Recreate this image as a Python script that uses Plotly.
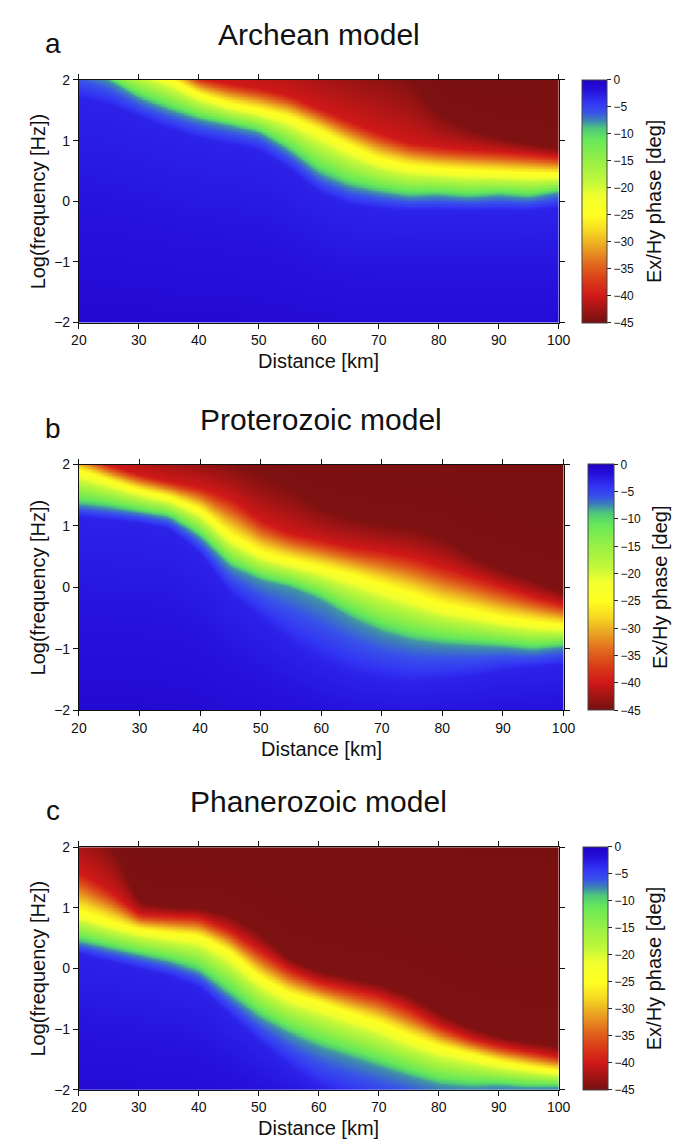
import numpy as np
import plotly.graph_objects as go

# ---------------- data ----------------
DIST = [20, 25, 30, 35, 40, 45, 50, 55, 60, 65, 70, 75, 80, 85, 90, 95, 100]
X_TICKS = [20, 30, 40, 50, 60, 70, 80, 90, 100]
Y_TICKS = [-2, -1, 0, 1, 2]
CB_TICKS = [0, -5, -10, -15, -20, -25, -30, -35, -40, -45]

# phase values of the iso-lines (deg)
PHASE_LEVELS = [-0.5, -3, -8, -24, -40, -44.5, -45]
FLOOR_LOGF = -3.0
CEIL_LOGF = 4.0

# Archean model: log-frequency of each iso-phase line at each distance
A_F3 = [1.7, 1.6, 1.4, 1.2, 1.05, 0.95, 0.85, 0.55, 0.15, -0.05, -0.12, -0.15, -0.15, -0.15, -0.15, -0.15, -0.1]
A_F8 = [2.2, 2.0, 1.7, 1.51, 1.35, 1.25, 1.14, 0.84, 0.46, 0.25, 0.15, 0.08, 0.1, 0.06, 0.1, 0.06, 0.15]
A_F24 = [2.5, 2.3, 2.2, 2.02, 1.76, 1.6, 1.5, 1.38, 1.16, 0.9, 0.68, 0.57, 0.52, 0.49, 0.47, 0.45, 0.44]
A_F40 = [3.0, 2.8, 2.65, 2.35, 2.05, 1.95, 1.87, 1.75, 1.54, 1.33, 1.13, 0.97, 0.9, 0.86, 0.83, 0.79, 0.74]
A_F44 = [3.5, 3.4, 3.3, 3.2, 3.1, 3.0, 2.9, 2.8, 2.6, 2.45, 2.3, 2.05, 1.45, 1.2, 1.05, 0.95, 0.88]

# Proterozoic model
B_F3 = [1.15, 1.1, 1.05, 0.95, 0.55, -0.1, -0.5, -0.9, -1.2, -1.4, -1.5, -1.55, -1.5, -1.45, -1.35, -1.3, -1.25]
B_F8 = [1.35, 1.3, 1.22, 1.14, 0.82, 0.34, 0.12, 0.0, -0.2, -0.5, -0.72, -0.86, -0.92, -0.95, -0.97, -1.02, -0.96]
B_F24 = [1.9, 1.73, 1.57, 1.46, 1.25, 0.82, 0.55, 0.42, 0.31, 0.18, 0.02, -0.14, -0.31, -0.41, -0.52, -0.58, -0.63]
B_F40 = [2.2, 2.0, 1.84, 1.73, 1.63, 1.46, 1.09, 0.88, 0.77, 0.66, 0.6, 0.5, 0.34, 0.18, 0.02, -0.14, -0.28]
B_F44 = [2.8, 2.6, 2.45, 2.3, 2.2, 2.05, 1.85, 1.6, 1.3, 1.14, 1.04, 0.98, 0.82, 0.5, 0.28, 0.12, -0.09]

# Phanerozoic model
C_F3 = [0.25, 0.12, 0.0, -0.12, -0.3, -0.75, -1.2, -1.6, -1.95, -2.15, -2.3, -2.4, -2.5, -2.5, -2.5, -2.5, -2.5]
C_F8 = [0.44, 0.33, 0.22, 0.11, -0.05, -0.43, -0.8, -1.07, -1.29, -1.45, -1.61, -1.77, -1.91, -1.95, -1.93, -1.96, -1.95]
C_F24 = [0.92, 0.76, 0.63, 0.57, 0.52, 0.27, -0.16, -0.43, -0.57, -0.75, -0.91, -1.13, -1.3, -1.42, -1.55, -1.63, -1.7]
C_F40 = [1.6, 1.3, 0.9, 0.88, 0.86, 0.65, 0.33, 0.0, -0.21, -0.32, -0.43, -0.64, -0.93, -1.13, -1.26, -1.36, -1.45]
C_F44 = [2.6, 2.1, 1.1, 1.02, 1.0, 0.9, 0.6, 0.17, -0.03, -0.15, -0.25, -0.43, -0.72, -0.96, -1.12, -1.2, -1.28]

TITLES = ["Archean model", "Proterozoic model", "Phanerozoic model"]
LETTERS = ["a", "b", "c"]
X_TITLE = "Distance [km]"
Y_TITLE = "Log(frequency [Hz])"
CB_TITLE = "Ex/Hy phase [deg]"

# ---------------- style ----------------
W, H = 694, 1147
FONT = "Liberation Sans, Arial, Helvetica, sans-serif"

COLOR_STOPS = [
    (-45, "#761010"), (-42.5, "#a01414"), (-40, "#d01818"), (-37, "#da3c18"),
    (-34, "#e26a1e"), (-31, "#eaa222"), (-28, "#f6d822"), (-25, "#ffff22"),
    (-21.5, "#f2ff2e"), (-19, "#c4f83a"), (-15, "#98f044"), (-11, "#66e85a"),
    (-9, "#4ec87a"), (-7.5, "#3e84b4"), (-6, "#3852ea"), (-4, "#3232f4"),
    (-2, "#2612dc"), (0, "#2000c8"),
]
COLORSCALE = [[(v + 45) / 45.0, c] for v, c in COLOR_STOPS]

# raster on which the iso-line table is laid out for the heatmap
GRID_X = np.linspace(20, 100, 321)
GRID_Y = np.linspace(-2, 2, 321)
SMOOTH_PTS = 13  # width (in raster columns) of the rendering smoothing of the iso-lines


def smooth(v):
    k = np.hanning(SMOOTH_PTS + 2)[1:-1]
    k = k / k.sum()
    pad = SMOOTH_PTS // 2
    vp = np.concatenate([np.full(pad, v[0]), v, np.full(pad, v[-1])])
    return np.convolve(vp, k, mode="valid")


def build_z(lines):
    # lines: iso-line position arrays (one per phase level, excluding floor/ceiling)
    cols = [smooth(np.interp(GRID_X, DIST, ln)) for ln in lines]
    z = np.empty((len(GRID_Y), len(GRID_X)))
    for j in range(len(GRID_X)):
        pos = [FLOOR_LOGF] + [c[j] for c in cols] + [CEIL_LOGF]
        z[:, j] = np.interp(GRID_Y, pos, PHASE_LEVELS)
    return z


FIELDS = [
    build_z([A_F3, A_F8, A_F24, A_F40, A_F44]),
    build_z([B_F3, B_F8, B_F24, B_F40, B_F44]),
    build_z([C_F3, C_F8, C_F24, C_F40, C_F44]),
]

# panel geometry in pixels
PANELS = [
    dict(x0=73, x1=567, top=73, bot=319, cb0=591, cb1=616),
    dict(x0=73, x1=572, top=463, bot=712, cb0=597, cb1=623),
    dict(x0=73, x1=567, top=851, bot=1097, cb0=592, cb1=617),
]


def px(x):
    return x / W


def py(y):
    return 1 - y / H


fig = go.Figure()
annotations = []
layout_axes = {}

for i, (p, z) in enumerate(zip(PANELS, FIELDS)):
    n = i + 1
    xa = "x" if n == 1 else f"x{n}"
    ya = "y" if n == 1 else f"y{n}"
    fig.add_trace(go.Heatmap(
        x=GRID_X, y=GRID_Y, z=z, zmin=-45, zmax=0,
        colorscale=COLORSCALE, zsmooth="best",
        xaxis=xa, yaxis=ya, hoverinfo="skip",
        colorbar=dict(
            x=px(p["cb0"]), xanchor="left", xpad=0,
            y=py((p["top"] + p["bot"]) / 2), yanchor="middle", ypad=0,
            len=(p["bot"] - p["top"]) / H, lenmode="fraction",
            thickness=p["cb1"] - p["cb0"], thicknessmode="pixels",
            outlinewidth=1, outlinecolor="#444",
            tickvals=CB_TICKS, ticks="outside", ticklen=4, tickcolor="#222",
            tickfont=dict(size=12, color="#111", family=FONT),
        ),
    ))
    axis_common = dict(
        showline=True, linecolor="#111", linewidth=1, mirror="ticks",
        ticks="outside", ticklen=5, tickcolor="#111", tickwidth=1,
        showgrid=False, zeroline=False,
        tickfont=dict(size=14, color="#111", family=FONT),
    )
    layout_axes["xaxis" if n == 1 else f"xaxis{n}"] = dict(
        domain=[px(p["x0"]), px(p["x1"])], range=[20, 100],
        tickvals=X_TICKS, anchor=ya, **axis_common)
    layout_axes["yaxis" if n == 1 else f"yaxis{n}"] = dict(
        domain=[py(p["bot"]), py(p["top"])], range=[-2, 2],
        tickvals=Y_TICKS, anchor=xa, **axis_common)

    cx = (p["x0"] + p["x1"]) / 2
    cy = (p["top"] + p["bot"]) / 2
    annotations.append(dict(text=TITLES[i], x=px(cx), y=py(p["top"] - 46),
                            xref="paper", yref="paper", showarrow=False,
                            xanchor="center", yanchor="middle",
                            font=dict(size=30, color="#111", family=FONT)))
    annotations.append(dict(text=LETTERS[i], x=px(46), y=py(p["top"] - 37),
                            xref="paper", yref="paper", showarrow=False,
                            xanchor="center", yanchor="middle",
                            font=dict(size=28, color="#111", family=FONT)))
    annotations.append(dict(text=X_TITLE, x=px(cx), y=py(p["bot"] + 39),
                            xref="paper", yref="paper", showarrow=False,
                            xanchor="center", yanchor="middle",
                            font=dict(size=20, color="#111", family=FONT)))
    annotations.append(dict(text=Y_TITLE, x=px(31), y=py(cy), textangle=-90,
                            xref="paper", yref="paper", showarrow=False,
                            xanchor="center", yanchor="middle",
                            font=dict(size=20, color="#111", family=FONT)))
    annotations.append(dict(text=CB_TITLE, x=px(p["cb1"] + 49), y=py(cy), textangle=-90,
                            xref="paper", yref="paper", showarrow=False,
                            xanchor="center", yanchor="middle",
                            font=dict(size=20, color="#111", family=FONT)))

fig.update_layout(
    width=W, height=H,
    margin=dict(l=0, r=0, t=0, b=0),
    paper_bgcolor="white", plot_bgcolor="white",
    showlegend=False,
    annotations=annotations,
    font=dict(family=FONT, color="#111"),
    **layout_axes,
)

fig.write_html("out.html")
